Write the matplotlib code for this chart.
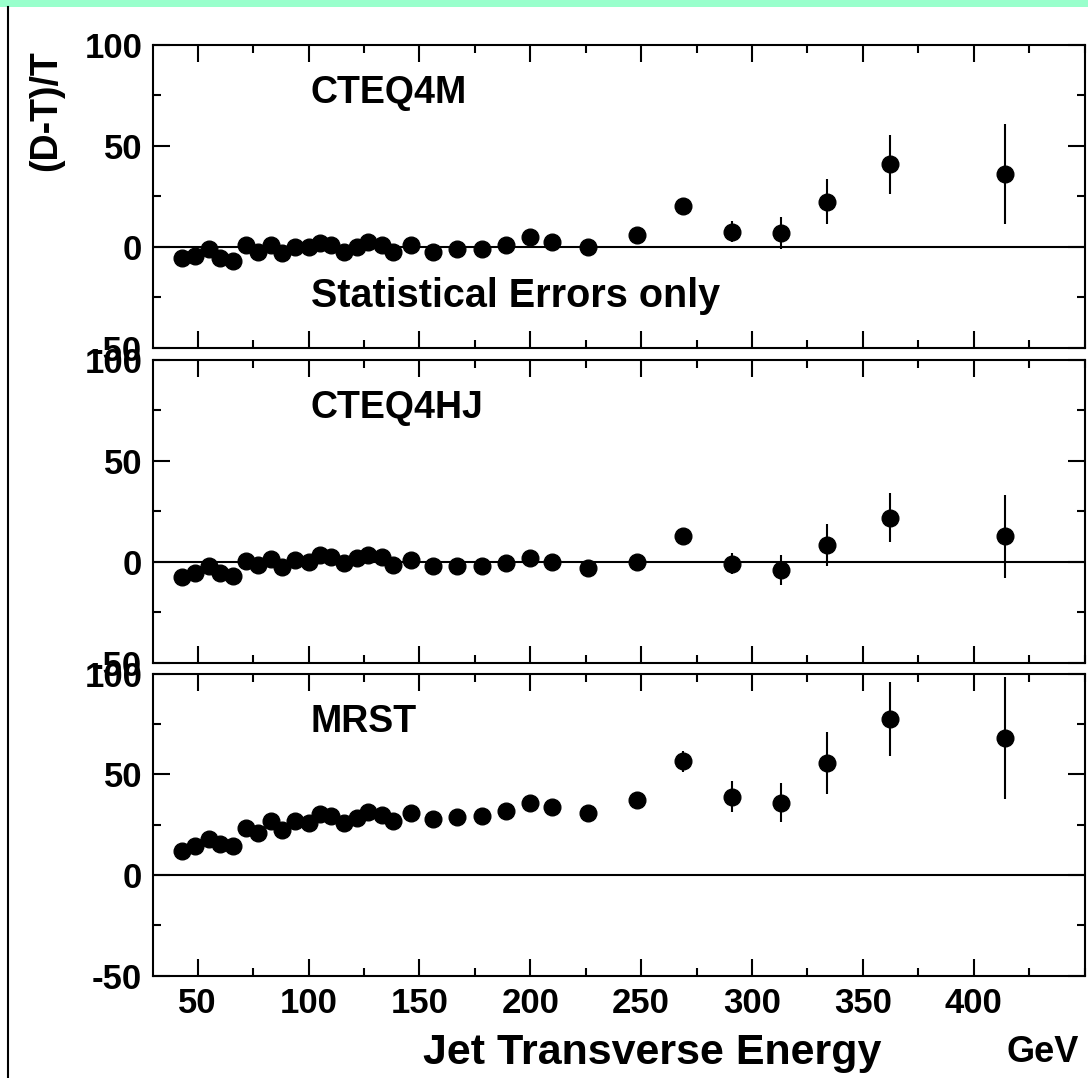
import matplotlib.pyplot as plt
from matplotlib.ticker import MultipleLocator
from matplotlib.patches import Rectangle
from matplotlib.lines import Line2D
from matplotlib import font_manager

# jet transverse energy bins (GeV)
et = [43, 49, 55, 60, 66, 72, 77, 83, 88, 94, 100, 105, 110, 116, 122, 127, 133,
      138, 146, 156, 167, 178, 189, 200, 210, 226, 248, 269, 291, 313, 334, 362, 414]

# (D-T)/T in percent, one list per PDF set
cteq4m = [-5.7, -4.6, -1.3, -5.7, -7.0, 0.8, -2.5, 0.8, -3.3, 0.0, 0.0, 2.0, 0.8,
          -2.5, 0.0, 2.5, 0.8, -2.5, 0.8, -2.5, -1.3, -1.3, 0.8, 4.6, 2.5, 0.0,
          5.9, 20.3, 7.5, 6.7, 22.3, 40.8, 35.9]
cteq4m_err = [0.4, 0.4, 0.4, 0.4, 0.4, 0.4, 0.4, 0.5, 0.5, 0.5, 0.5, 0.5, 0.6,
              0.6, 0.6, 0.7, 0.7, 0.8, 0.8, 0.9, 1.0, 1.2, 1.4, 1.7, 2.0, 2.5,
              3.0, 3.6, 5.0, 7.8, 11.2, 14.6, 24.6]

cteq4hj = [-7.7, -5.7, -2.1, -5.7, -7.0, 0.5, -1.6, 1.2, -2.5, 0.8, 0.0, 3.3, 2.1,
           -0.8, 1.6, 3.3, 2.1, -1.6, 0.8, -2.1, -2.1, -2.1, -0.5, 1.6, 0.0, -3.3,
           0.0, 12.6, -1.1, -4.1, 8.2, 21.8, 12.6]
cteq4hj_err = [0.4, 0.4, 0.4, 0.4, 0.4, 0.4, 0.4, 0.5, 0.5, 0.5, 0.5, 0.5, 0.6,
               0.6, 0.6, 0.7, 0.7, 0.8, 0.8, 0.9, 1.0, 1.2, 1.4, 1.7, 2.0, 2.5,
               3.0, 3.8, 5.2, 7.2, 10.3, 12.1, 20.5]

mrst = [11.7, 14.2, 17.8, 15.5, 14.5, 23.3, 21.1, 26.6, 22.5, 26.6, 25.8, 30.4, 29.1,
        25.8, 28.3, 31.2, 29.9, 26.6, 30.7, 27.8, 28.8, 29.4, 31.9, 36.0, 34.0, 30.7,
        37.4, 56.4, 39.0, 36.0, 55.6, 77.6, 68.0]
mrst_err = [0.5, 0.5, 0.5, 0.5, 0.5, 0.5, 0.5, 0.6, 0.6, 0.6, 0.6, 0.7, 0.7,
            0.7, 0.8, 0.8, 0.9, 0.9, 1.0, 1.1, 1.3, 1.5, 1.8, 2.2, 2.6, 3.2,
            4.0, 5.4, 7.5, 9.9, 15.2, 18.4, 30.3]

labels = ["CTEQ4M", "CTEQ4HJ", "MRST"]
xticks = [50, 100, 150, 200, 250, 300, 350, 400]
yticks = [-50, 0, 50, 100]

plt.rcParams["font.family"] = ["Liberation Sans", "DejaVu Sans"]
plt.rcParams["font.weight"] = "bold"
plt.rcParams["axes.unicode_minus"] = False

# narrow digits for the tick labels if that face is there
installed = {f.name for f in font_manager.fontManager.ttflist}
tick_family = "Liberation Sans Narrow" if "Liberation Sans Narrow" in installed else "Liberation Sans"
tick_size = 27 if tick_family == "Liberation Sans Narrow" else 25

W, H = 1088, 1078
fig = plt.figure(figsize=(W / 100, H / 100), dpi=100)

# green strip on top and thin frame line on the left
fig.patches.append(Rectangle((0, 1 - 7 / H), 1, 7 / H, transform=fig.transFigure,
                             facecolor="#99ffcc", edgecolor="none"))
fig.lines.append(Line2D([8 / W, 8 / W], [0, 1 - 7 / H], transform=fig.transFigure,
                        color="black", lw=1.5))

left = 153.3 / W
width = (1084.7 - 153.3) / W
# (top, bottom) pixel rows of each panel
rows = [(44.7, 347.7), (359.7, 662.7), (673.7, 975.7)]

series = [(cteq4m, cteq4m_err), (cteq4hj, cteq4hj_err), (mrst, mrst_err)]

axes = []
for i, ((top, bot), (vals, errs), lab) in enumerate(zip(rows, series, labels)):
    ax = fig.add_axes([left, 1 - bot / H, width, (bot - top) / H])
    ax.errorbar(et, vals, yerr=errs, fmt="o", color="black", ms=12,
                elinewidth=1.5, capsize=0)
    ax.axhline(0, color="black", lw=1.5)
    ax.set_xlim(30, 450)
    ax.set_ylim(-50, 100)
    ax.set_xticks(xticks)
    ax.set_yticks(yticks)
    ax.xaxis.set_minor_locator(MultipleLocator(25))
    ax.yaxis.set_minor_locator(MultipleLocator(25))
    ax.tick_params(which="both", direction="in", top=True, right=True,
                   width=1.5, labelsize=tick_size, pad=8)
    ax.tick_params(which="major", length=12.5)
    ax.tick_params(which="minor", length=6)
    for t in ax.get_xticklabels() + ax.get_yticklabels():
        t.set_family(tick_family)
    for s in ax.spines.values():
        s.set_linewidth(1.5)
    if i < 2:
        ax.tick_params(labelbottom=False)
    ax.text(101, 76, lab, fontsize=27, fontweight="bold", ha="left", va="center")
    axes.append(ax)

axes[0].text(101, -24.5, "Statistical Errors only", fontsize=28.5,
             fontweight="bold", ha="left", va="center")

fig.text(46 / W, 1 - 111 / H, "(D-T)/T", rotation=90, fontsize=27,
         fontweight="bold", ha="center", va="center")
fig.text(652 / W, 1 - 1064 / H, "Jet Transverse Energy", fontsize=31,
         fontweight="bold", ha="center", va="baseline")
fig.text(1007 / W, 1 - 1062 / H, "GeV", fontsize=26, fontweight="bold",
         ha="left", va="baseline")

fig.savefig("out.png", dpi=100)
